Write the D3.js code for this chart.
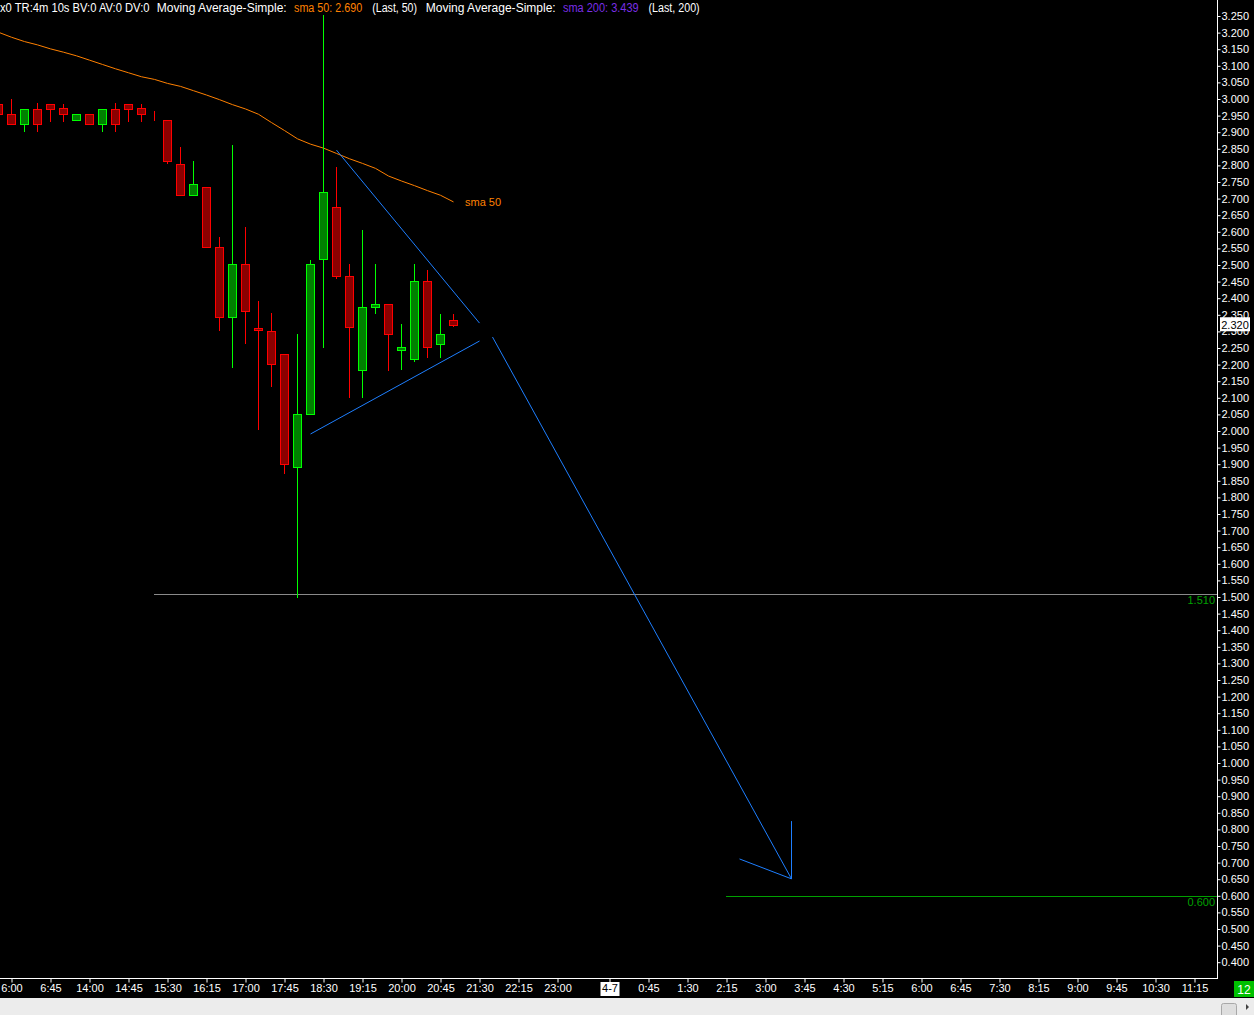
<!DOCTYPE html>
<html><head><meta charset="utf-8">
<script src="https://cdn.jsdelivr.net/npm/d3@7/dist/d3.min.js"></script>
<style>html,body{margin:0;padding:0;background:#000;overflow:hidden}svg{display:block}</style>
</head><body>
<script>
// ---------- data ----------
const firstSlot = -1; // slot index of first candle (15-minute slots)
const opens  = [2.985,2.955,2.924,2.969,2.984,2.972,2.936,2.954,2.924,2.969,2.984,2.972,2.936,2.936,2.803,2.710,2.734,2.553,2.342,2.502,2.309,2.300,2.231,1.891,2.050,2.517,2.674,2.466,2.183,2.373,2.382,2.243,2.216,2.451,2.261,2.333];
const highs  = [2.985,3.000,2.969,2.987,2.984,2.985,2.954,2.954,2.969,2.987,2.984,2.985,2.964,2.936,2.855,2.813,2.734,2.583,2.861,2.614,2.391,2.355,2.231,2.292,2.515,3.253,2.794,2.502,2.605,2.502,2.382,2.322,2.502,2.484,2.351,2.351];
const lows   = [2.954,2.924,2.905,2.905,2.934,2.934,2.936,2.924,2.905,2.905,2.934,2.934,2.936,2.806,2.710,2.710,2.553,2.305,2.194,2.264,2.005,2.136,1.874,1.500,2.050,2.254,2.460,2.103,2.103,2.356,2.185,2.188,2.212,2.224,2.224,2.315];
const closes = [2.954,2.924,2.969,2.924,2.971,2.954,2.954,2.924,2.969,2.924,2.971,2.954,2.936,2.812,2.710,2.743,2.553,2.342,2.502,2.361,2.303,2.201,1.900,2.050,2.502,2.719,2.466,2.312,2.373,2.382,2.291,2.252,2.451,2.252,2.291,2.320];
const sma50  = [3.201,3.186,3.173,3.163,3.151,3.141,3.130,3.117,3.104,3.091,3.079,3.067,3.059,3.047,3.038,3.025,3.012,2.998,2.983,2.970,2.954,2.929,2.905,2.880,2.864,2.852,2.836,2.820,2.806,2.791,2.768,2.753,2.739,2.724,2.710,2.690];

const tickLabels = ["6:00","6:45","14:00","14:45","15:30","16:15","17:00","17:45","18:30","19:15","20:00","20:45","21:30","22:15","23:00","4-7","0:45","1:30","2:15","3:00","3:45","4:30","5:15","6:00","6:45","7:30","8:15","9:00","9:45","10:30","11:15"];
const tickSlots  = [0,3,6,9,12,15,18,21,24,27,30,33,36,39,42,46,49,52,55,58,61,64,67,70,73,76,79,82,85,88,91];

const priceTicks = d3.range(0.40, 3.2501, 0.05);
const lastPrice = 2.320;

// drawings: [slot, price] pairs
const trendUpper = [[25,2.846],[36,2.325]];
const trendLower = [[23,1.991],[36,2.271]];
const arrowLine  = [[37,2.283],[60,0.651]];
const arrowHead  = [[56,0.711],[60,0.651],[60,0.825]];
const levelPrices = [1.510, 0.600];
const levelStart  = [11, 55];

// ---------- layout ----------
const W = 1254, H = 1015, plotR = 1217, plotB = 978;
const xs = d3.scaleLinear().domain([0, 91]).range([11.5, 1194.5]);
const ys = d3.scaleLinear().domain([0.4, 3.25]).range([962.2, 16]);
const ry = v => Math.round(ys(v)) + 0.5;

const svg = d3.select("body").append("svg").attr("width", W).attr("height", H)
  .style("font-family", "'Liberation Sans', Arial, sans-serif");
svg.append("rect").attr("width", W).attr("height", H).attr("fill", "#000");
svg.append("clipPath").attr("id", "clip").append("rect").attr("width", plotR).attr("height", plotB);
const plot = svg.append("g").attr("clip-path", "url(#clip)");

// levels
const levelColors = ["#8a8a8a", "#00a000"];
levelPrices.forEach((p, k) => {
  plot.append("line").attr("x1", xs(levelStart[k]) - 0.5).attr("x2", plotR)
    .attr("y1", ry(p)).attr("y2", ry(p)).attr("stroke", levelColors[k]).attr("stroke-width", 1);
  plot.append("text").attr("x", plotR - 2).attr("y", ys(p) + 10.5).attr("text-anchor", "end")
    .attr("fill", "#00a000").attr("font-size", 11).text(d3.format(".3f")(p));
});

// sma line
const line = d3.line().x((d, i) => xs(firstSlot + i)).y(d => ys(d));
plot.append("path").attr("d", line(sma50)).attr("fill", "none").attr("stroke", "#ff8000").attr("stroke-width", 1);
plot.append("text").attr("x", 465).attr("y", ys(sma50[sma50.length - 1]) + 4).attr("fill", "#ff8000")
  .attr("font-size", 11).text("sma 50");

// candles
const cg = plot.append("g");
opens.forEach((o, i) => {
  const c = closes[i], up = c >= o && !(c === o && i === 11 ? false : false);
  const isUp = c > o || (c === o && i === 11);
  const stroke = isUp ? "#00ff00" : "#ff0000", fill = isUp ? "#008000" : "#8b0000";
  const cx = xs(firstSlot + i);
  cg.append("line").attr("x1", cx).attr("x2", cx).attr("y1", ry(highs[i]) - 0.5).attr("y2", ry(lows[i]) + 0.5)
    .attr("stroke", stroke).attr("stroke-width", 1);
  const t = ry(Math.max(o, c)), b = ry(Math.min(o, c));
  cg.append("rect").attr("x", cx - 4).attr("y", t).attr("width", 8).attr("height", Math.max(0, b - t))
    .attr("fill", fill).attr("stroke", stroke).attr("stroke-width", 1);
});

// trend drawings
const dl = d3.line().x(d => xs(d[0])).y(d => ys(d[1]));
[trendUpper, trendLower, arrowLine, arrowHead].forEach(pts => {
  plot.append("path").attr("d", dl(pts)).attr("fill", "none").attr("stroke", "#1e7fff").attr("stroke-width", 1);
});

// right axis
svg.append("line").attr("x1", plotR + 0.5).attr("x2", plotR + 0.5).attr("y1", 0).attr("y2", plotB + 1)
  .attr("stroke", "#fff");
const ya = svg.append("g").attr("transform", `translate(${plotR + 0.5},0)`)
  .call(d3.axisRight(ys).tickValues(priceTicks).tickFormat(d3.format(".3f")).tickSize(3).tickPadding(1));
ya.select(".domain").remove();
ya.selectAll("line").attr("stroke", "#fff");
ya.selectAll("text").attr("fill", "#fff").attr("font-size", 11).attr("font-family", "'Liberation Sans', Arial, sans-serif");

// last price tag
svg.append("rect").attr("x", 1220).attr("y", ys(lastPrice) - 7.5).attr("width", 30).attr("height", 14).attr("fill", "#fff");
svg.append("text").attr("x", 1235).attr("y", ys(lastPrice) + 4).attr("text-anchor", "middle")
  .attr("fill", "#000").attr("font-size", 11).text(d3.format(".3f")(lastPrice));

// bottom axis
svg.append("line").attr("x1", 0).attr("x2", plotR + 1).attr("y1", plotB + 0.5).attr("y2", plotB + 0.5).attr("stroke", "#fff");
const xa = svg.append("g").attr("transform", `translate(0,${plotB + 0.5})`)
  .call(d3.axisBottom(xs).tickValues(tickSlots).tickFormat((d, i) => tickLabels[i]).tickSize(4).tickPadding(2));
xa.select(".domain").remove();
xa.selectAll("line").attr("stroke", "#fff");
xa.selectAll("text").attr("fill", "#fff").attr("font-size", 11).attr("font-family", "'Liberation Sans', Arial, sans-serif");
xa.selectAll(".tick").filter((d, i) => tickLabels[i].includes("-")).each(function () {
  const g = d3.select(this);
  g.insert("rect", "text").attr("x", -9.5).attr("y", 3.5).attr("width", 19).attr("height", 14).attr("fill", "#fff");
  g.select("text").attr("fill", "#000");
});

// badge
svg.append("rect").attr("x", 1234).attr("y", 981).attr("width", 20).attr("height", 16).attr("fill", "#00c000");
svg.append("text").attr("x", 1244).attr("y", 993.5).attr("text-anchor", "middle").attr("fill", "#fff")
  .attr("font-size", 12).text("12");

// scrollbar
svg.append("rect").attr("x", 0).attr("y", 998).attr("width", W).attr("height", 17).attr("fill", "#ececec");
svg.append("rect").attr("x", 1221.5).attr("y", 1003.5).attr("width", 15).attr("height", 14).attr("rx", 2)
  .attr("fill", "#dedede").attr("stroke", "#a8a8a8");
svg.append("path").attr("d", "M1246,1004 L1249,1007 L1246,1010 Z").attr("fill", "#404040");

// header
const hdr = [
  ["x0 TR:4m 10s BV:0 AV:0 DV:0", 0, 149.5, "#fff"],
  ["Moving Average-Simple:", 156.7, 286.7, "#fff"],
  ["sma 50: 2.690", 294, 362.3, "#ff8000"],
  ["(Last, 50)", 372.3, 417, "#fff"],
  ["Moving Average-Simple:", 425.7, 555.7, "#fff"],
  ["sma 200: 3.439", 563, 638.6, "#7a2ee6"],
  ["(Last, 200)", 648.5, 699.7, "#fff"]
];
hdr.forEach(h => {
  svg.append("text").attr("x", h[1]).attr("y", 12).attr("fill", h[3]).attr("font-size", 12)
    .attr("textLength", h[2] - h[1]).attr("lengthAdjust", "spacingAndGlyphs").text(h[0]);
});
</script>
</body></html>
